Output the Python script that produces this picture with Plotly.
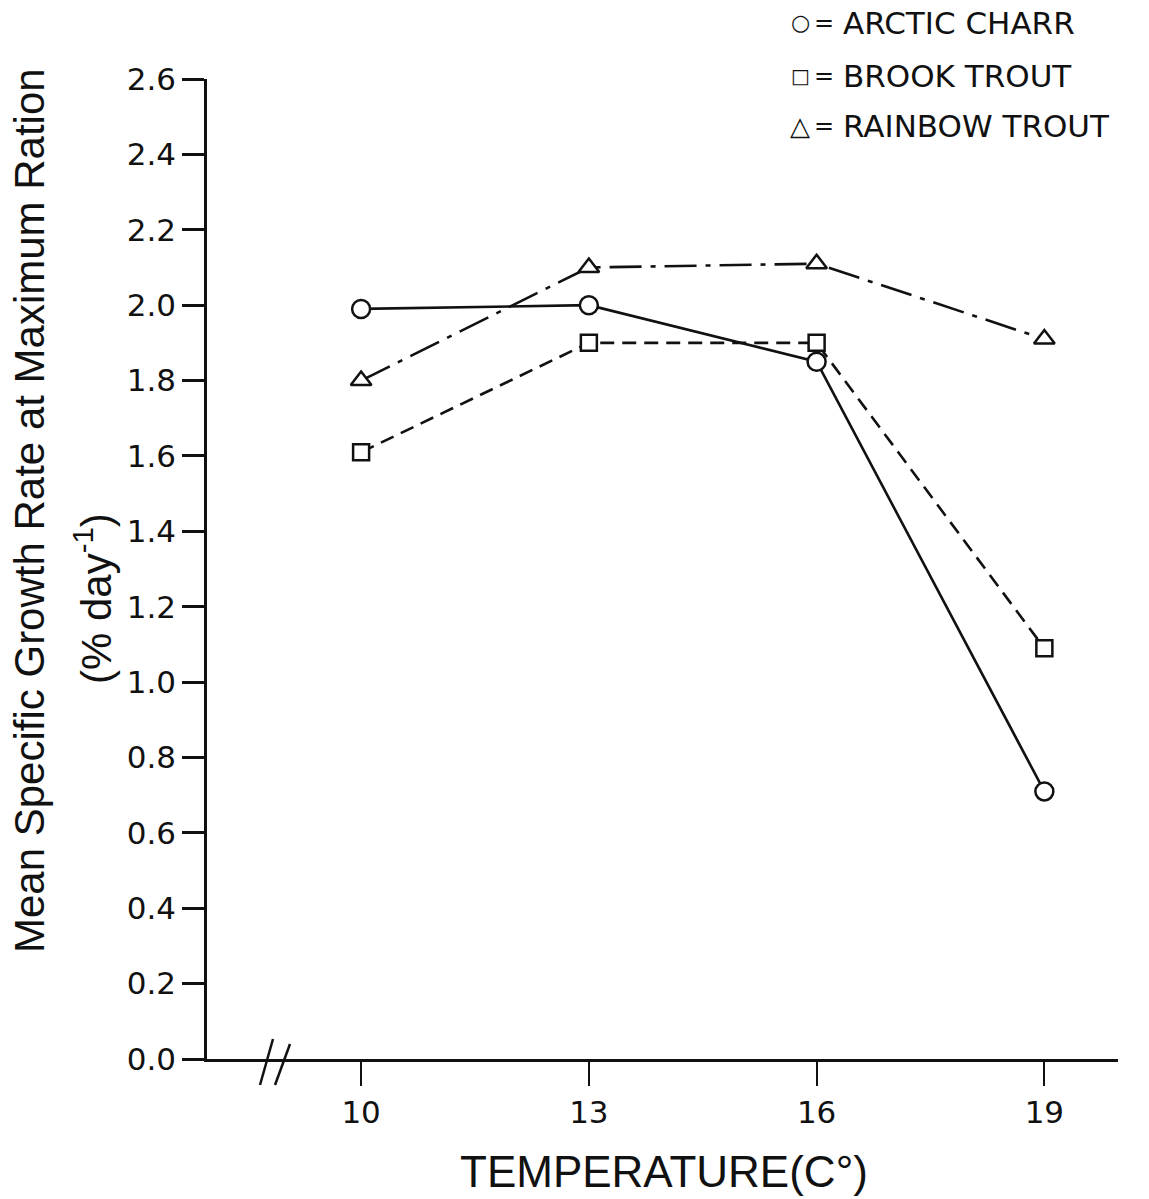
import plotly.graph_objects as go

# Water temperature treatments (deg C)
temperature = [10, 13, 16, 19]

# Mean specific growth rate at maximum ration (% day^-1)
arctic_charr = [1.99, 2.00, 1.85, 0.71]
brook_trout = [1.61, 1.90, 1.90, 1.09]
rainbow_trout = [1.80, 2.10, 2.11, 1.91]

species_names = ["ARCTIC CHARR", "BROOK TROUT", "RAINBOW TROUT"]
legend_keys = ["\u25CB", "\u25A1", "\u25B3"]

y_ticks = [0.0, 0.2, 0.4, 0.6, 0.8, 1.0, 1.2, 1.4, 1.6, 1.8, 2.0, 2.2, 2.4, 2.6]
y_ticktext = ["0.0", "0.2", "0.4", "0.6", "0.8", "1.0", "1.2", "1.4",
              "1.6", "1.8", "2.0", "2.2", "2.4", "2.6"]
x_ticks = [10, 13, 16, 19]
x_ticktext = ["10", "13", "16", "19"]

INK = "#111111"
TICK_FONT = dict(family="DejaVu Sans", size=31, color=INK)
TITLE_FONT = dict(family="Liberation Sans", size=42, color=INK)

fig = go.Figure()

series = [
    (arctic_charr, "solid", "circle", 18),
    (brook_trout, "14px,8px", "square", 16),
    (rainbow_trout, "32px,9px,5px,9px", "triangle-up", 18),
]
for values, dash, symbol, msize in series:
    fig.add_trace(go.Scatter(
        x=temperature, y=values, mode="lines+markers",
        line=dict(color=INK, width=2.6, dash=dash),
        marker=dict(symbol=symbol, size=msize, color="white",
                    line=dict(color=INK, width=2.5)),
        showlegend=False, cliponaxis=False,
    ))

# pixel -> paper helpers for the 911 x 980 plotting area
L, T, W, H = 207, 79, 911, 980


def px(xp):
    return (xp - L) / W


def py(yp):
    return (T + H - yp) / H


annotations = [
    dict(text="Mean Specific Growth Rate at Maximum Ration", textangle=-90,
         x=px(30), y=py(511), font=TITLE_FONT),
    dict(text="(% day<sup>-1</sup>)", textangle=-90,
         x=px(93), y=py(598), font=TITLE_FONT),
    dict(text="TEMPERATURE(C\u00B0)", x=px(664), y=py(1171),
         font=dict(family="Liberation Sans", size=44, color=INK)),
]

legend_rows = [23, 76, 126]
key_sizes = [22, 20, 26]
for key, name, yrow, ks in zip(legend_keys, species_names, legend_rows, key_sizes):
    annotations.append(dict(text=key, x=px(800), y=py(yrow),
                            font=dict(family="DejaVu Sans", size=ks, color=INK)))
    annotations.append(dict(text="=", x=px(824), y=py(yrow),
                            font=dict(family="DejaVu Sans", size=24, color=INK)))
    annotations.append(dict(text=name, x=px(841), y=py(yrow), xanchor="left",
                            font=dict(family="DejaVu Sans", size=31, color=INK)))

for a in annotations:
    a.setdefault("xanchor", "center")
    a.setdefault("yanchor", "middle")
    a.update(xref="paper", yref="paper", showarrow=False)

# axis break marks on the temperature axis
shapes = [
    dict(type="line", xref="paper", yref="paper",
         x0=px(260), y0=py(1085), x1=px(273), y1=py(1039),
         line=dict(color=INK, width=2.5)),
    dict(type="line", xref="paper", yref="paper",
         x0=px(275), y0=py(1085), x1=px(290), y1=py(1044),
         line=dict(color=INK, width=2.5)),
]

fig.update_layout(
    width=1149, height=1199,
    margin=dict(l=L, r=1149 - L - W, t=T, b=1199 - T - H, pad=0),
    paper_bgcolor="white", plot_bgcolor="white",
    annotations=annotations, shapes=shapes,
    xaxis=dict(range=[7.97, 19.97], tickvals=x_ticks, ticktext=x_ticktext,
               showline=True, linecolor=INK, linewidth=2.5,
               ticks="outside", ticklen=24, tickwidth=2, tickcolor=INK,
               showgrid=False, zeroline=False, tickfont=TICK_FONT),
    yaxis=dict(range=[0, 2.6], tickvals=y_ticks, ticktext=y_ticktext,
               showline=True, linecolor=INK, linewidth=2.5,
               ticks="outside", ticklen=22, tickwidth=2.5, tickcolor=INK,
               showgrid=False, zeroline=False, tickfont=TICK_FONT),
)

fig.write_html("out.html")
